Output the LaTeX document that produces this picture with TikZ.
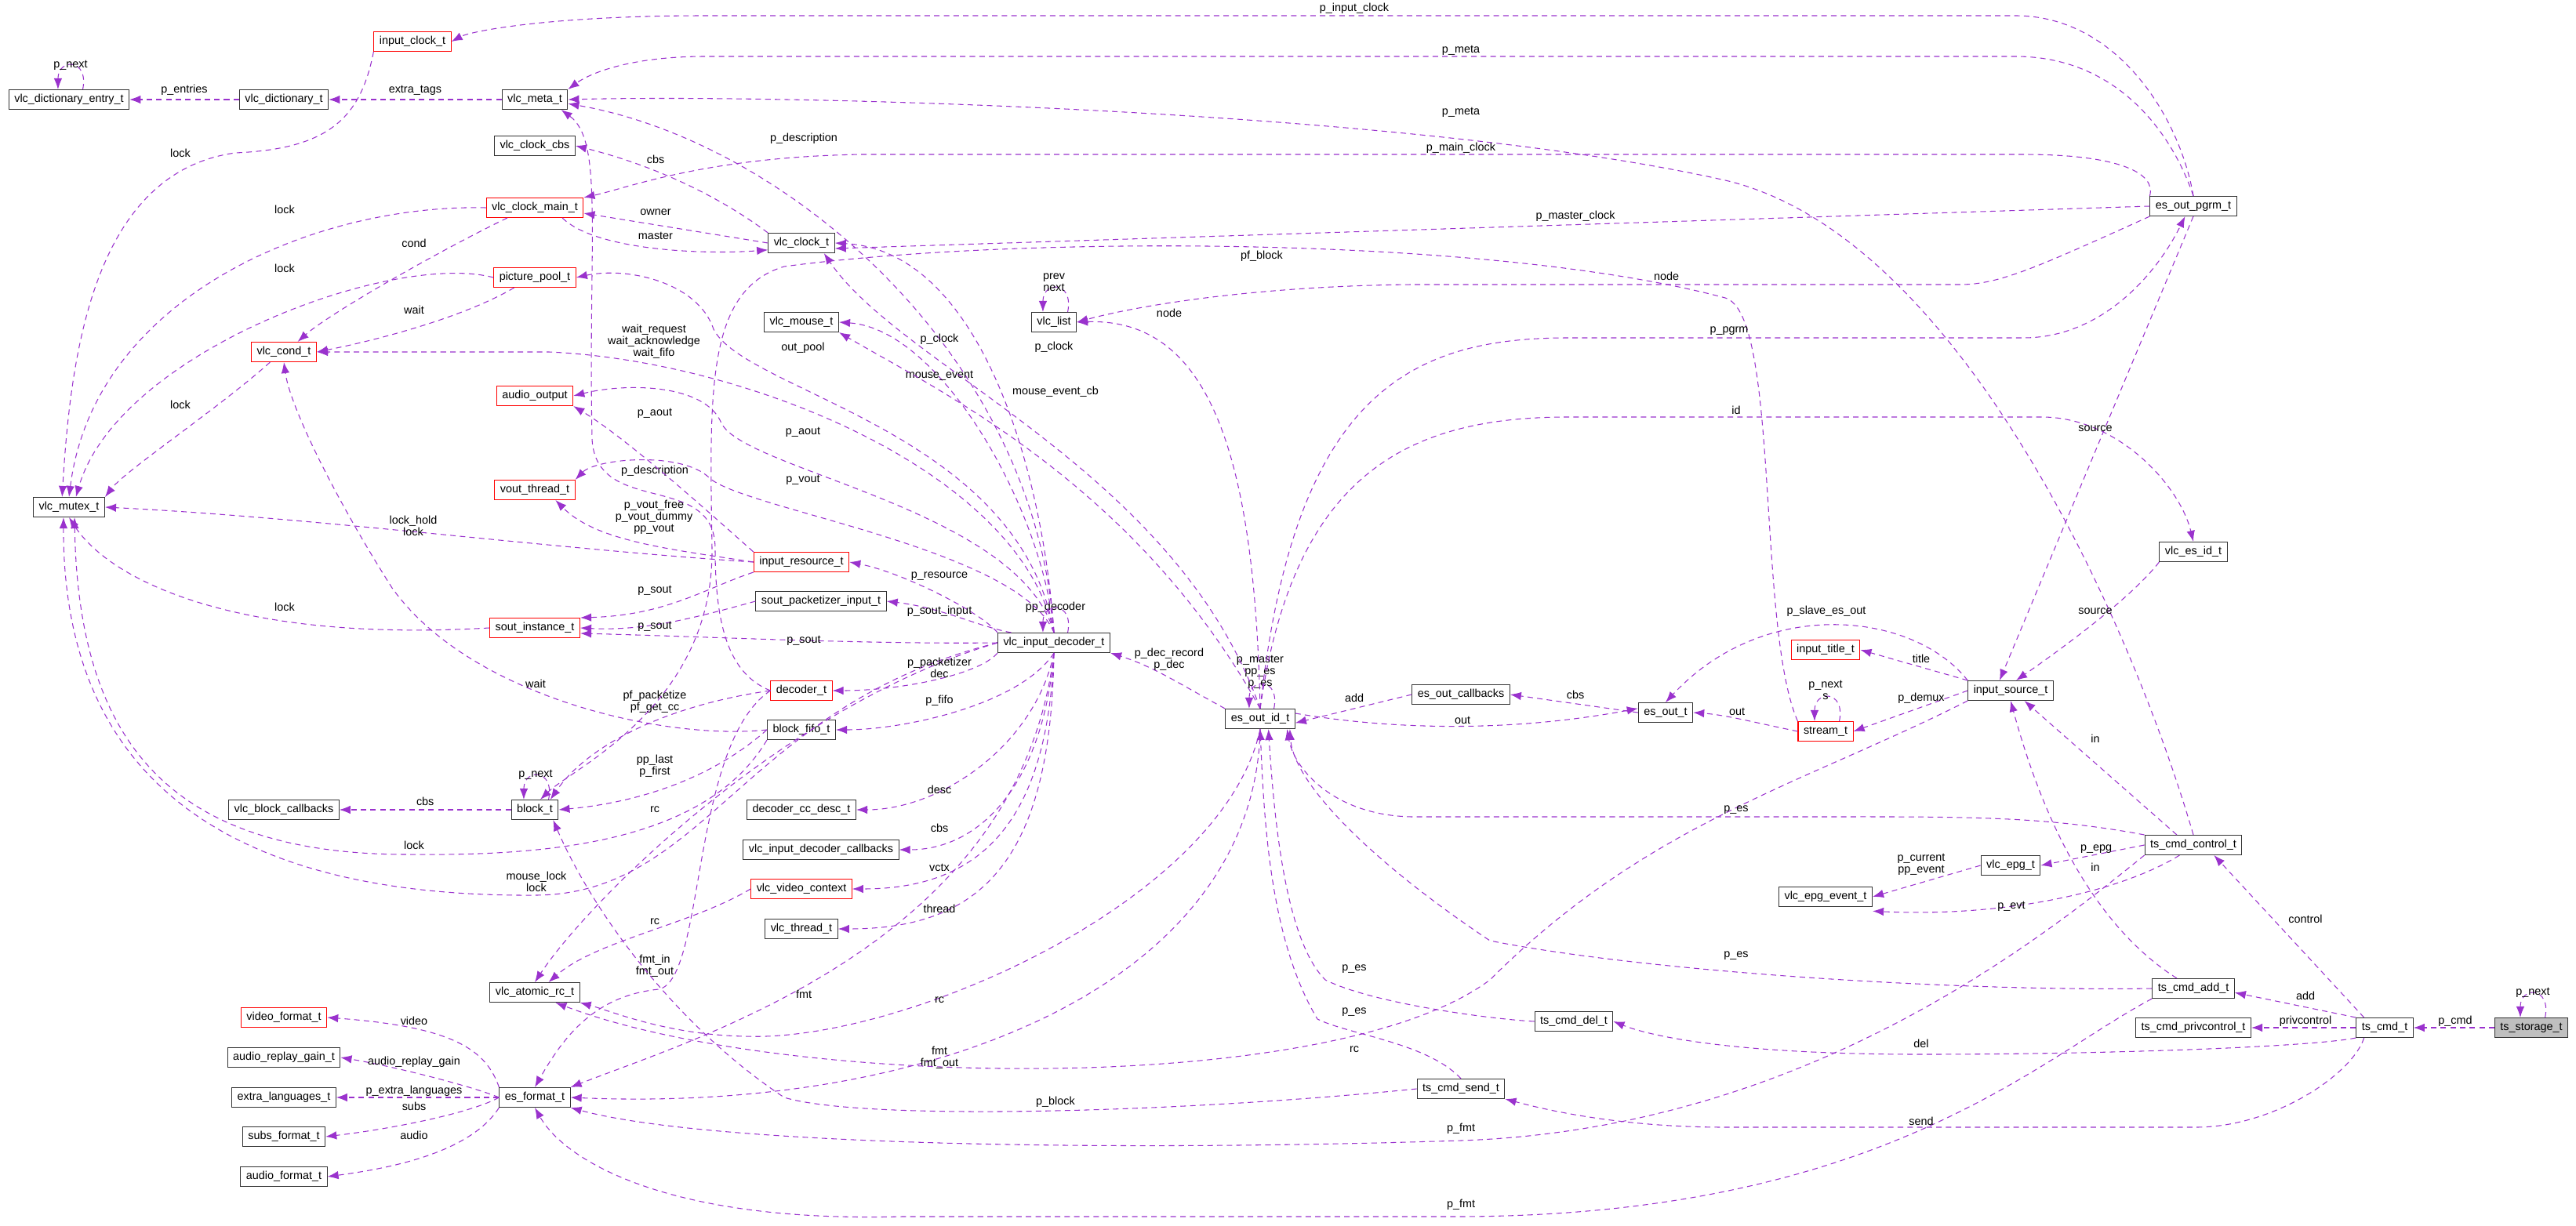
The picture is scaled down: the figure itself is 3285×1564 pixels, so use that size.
\documentclass[tikz,border=0pt]{standalone}
\usepackage{fontspec}
\setmainfont{Liberation Sans}
\usetikzlibrary{arrows.meta,calc,positioning}
\definecolor{edgecol}{HTML}{9A32CD}
\tikzset{st/.style={draw=black!80, line width=0.6pt, rectangle, inner xsep=4pt, inner ysep=0pt, minimum height=0.5cm, font=\fontsize{8.2}{9}\selectfont}}
\tikzstyle{rst}=[st, draw=red]
\tikzstyle{ed}=[draw=edgecol, dashed, line width=0.6pt, dash pattern=on 4pt off 3pt, -{Latex[length=8pt,width=6pt]}]
\tikzstyle{lbl}=[font=\fontsize{8.2}{8.6}\selectfont, align=center, inner sep=0pt]
\begin{document}
\begin{tikzpicture}[x=0.02cm, y=-0.02cm]
\useasboundingbox (0,0) rectangle (3285,1564);
% left column
\node[st] (dent) at (88,127) {vlc\_dictionary\_entry\_t};
\node[st] (dict) at (362,127) {vlc\_dictionary\_t};
\node[st] (mutex) at (88,647) {vlc\_mutex\_t};
\node[rst] (cond) at (362,449) {vlc\_cond\_t};
\node[st] (bcb) at (362,1033) {vlc\_block\_callbacks};
\node[rst] (vfmt) at (362,1298) {video\_format\_t};
\node[st] (rgain) at (362,1349) {audio\_replay\_gain\_t};
\node[st] (xlang) at (362,1400) {extra\_languages\_t};
\node[st] (subs) at (362,1450) {subs\_format\_t};
\node[st] (afmt) at (362,1501) {audio\_format\_t};
% second column
\node[rst] (ic) at (526,53) {input\_clock\_t};
\node[st] (meta) at (682,127) {vlc\_meta\_t};
\node[st] (ccbs) at (682,186) {vlc\_clock\_cbs};
\node[rst] (cmain) at (682,265) {vlc\_clock\_main\_t};
\node[rst] (ppool) at (682,354) {picture\_pool\_t};
\node[rst] (aout) at (682,505) {audio\_output};
\node[rst] (vout) at (682,625) {vout\_thread\_t};
\node[rst] (sout) at (682,801) {sout\_instance\_t};
\node[st] (blk) at (682,1033) {block\_t};
\node[st] (arc) at (682,1266) {vlc\_atomic\_rc\_t};
\node[st] (esf) at (682,1400) {es\_format\_t};
% third column
\node[st] (clk) at (1022,310) {vlc\_clock\_t};
\node[st] (mouse) at (1022,411) {vlc\_mouse\_t};
\node[rst] (ires) at (1022,717) {input\_resource\_t};
\node[st] (spkt) at (1047,767) {sout\_packetizer\_input\_t};
\node[rst] (dec) at (1022,881) {decoder\_t};
\node[st] (fifo) at (1022,931) {block\_fifo\_t};
\node[st] (ccdesc) at (1022,1033) {decoder\_cc\_desc\_t};
\node[st] (idcb) at (1047,1084) {vlc\_input\_decoder\_callbacks};
\node[rst] (vctx) at (1022,1134) {vlc\_video\_context};
\node[st] (thr) at (1022,1185) {vlc\_thread\_t};
\node[st] (list) at (1344,411) {vlc\_list};
\node[st] (idec) at (1344,820) {vlc\_input\_decoder\_t};
% right part
\node[st] (eoid) at (1607,917) {es\_out\_id\_t};
\node[st] (eocb) at (1863,886) {es\_out\_callbacks};
\node[st] (eout) at (2124,909) {es\_out\_t};
\node[st] (del) at (2007,1303) {ts\_cmd\_del\_t};
\node[st] (send) at (1863,1389) {ts\_cmd\_send\_t};
\node[rst] (title) at (2328,829) {input\_title\_t};
\node[rst] (stream) at (2328,933) {stream\_t};
\node[st] (epgev) at (2328,1144) {vlc\_epg\_event\_t};
\node[st] (isrc) at (2564,881) {input\_source\_t};
\node[st] (epg) at (2564,1104) {vlc\_epg\_t};
\node[st] (pgrm) at (2797,263) {es\_out\_pgrm\_t};
\node[st] (esid) at (2797,704) {vlc\_es\_id\_t};
\node[st] (ctrl) at (2797,1078) {ts\_cmd\_control\_t};
\node[st] (add) at (2797,1261) {ts\_cmd\_add\_t};
\node[st] (priv) at (2797,1311) {ts\_cmd\_privcontrol\_t};
\node[st] (cmd) at (3041,1311) {ts\_cmd\_t};
\node[st, fill=black!25] (store) at (3228,1311) {ts\_storage\_t};

% self loops
\draw[ed] ([xshift=10pt]dent.north) .. controls +(8,-40) and +(0,-40) .. ([xshift=-8pt]dent.north);
\draw[ed] ([xshift=10pt]blk.north) .. controls +(8,-40) and +(0,-40) .. ([xshift=-8pt]blk.north);
\draw[ed] ([xshift=10pt]list.north) .. controls +(8,-40) and +(0,-40) .. ([xshift=-8pt]list.north);
\draw[ed] ([xshift=10pt]stream.north) .. controls +(8,-40) and +(0,-40) .. ([xshift=-8pt]stream.north);
\draw[ed] ([xshift=10pt]store.north) .. controls +(8,-40) and +(0,-40) .. ([xshift=-8pt]store.north);
\draw[ed] ([xshift=10pt]idec.north) .. controls +(8,-40) and +(0,-40) .. ([xshift=-8pt]idec.north);
\draw[ed] ([xshift=10pt]eoid.north) .. controls +(8,-40) and +(0,-40) .. ([xshift=-8pt]eoid.north);
\node[lbl] (l1) at (90,83) {p\_next};
\node[lbl] (l2) at (683,988) {p\_next};
\node[lbl] (l3) at (1344,360) {prev\\next};
\node[lbl] (l4) at (2328,880) {p\_next\\s};
\node[lbl] (l5) at (3230,1266) {p\_next};
\node[lbl] (l6) at (1346,775) {pp\_decoder};
\node[lbl] (l7) at (1607,857) {p\_master\\pp\_es\\p\_es};

% left part
\draw[ed] (dict) -- (dent) node[lbl, pos=0.5, above=3pt] (l8) {p\_entries};
\draw[ed] (meta) -- (dict) node[lbl, pos=0.5, above=3pt] (l9) {extra\_tags};
\draw[ed] (ic.south west) .. controls (460,150) and (420,190) .. (300,195) .. controls (120,220) and (90,450) .. ([xshift=-5pt]mutex.north);
\node[lbl] (l10) at (230,195) {lock};
\draw[ed] (cmain.west) .. controls (400,260) and (120,380) .. (mutex.north);
\node[lbl] (l11) at (363,267) {lock};
\draw[ed] (ppool.west) .. controls (500,320) and (150,450) .. ([xshift=5pt]mutex.north);
\node[lbl] (l12) at (363,342) {lock};
\draw[ed] ([xshift=-20pt]cmain.south) .. controls (560,320) and (420,400) .. ([xshift=10pt]cond.north);
\node[lbl] (l13) at (528,310) {cond};
\draw[ed] ([xshift=-15pt]ppool.south) .. controls (600,400) and (500,430) .. (cond.east);
\node[lbl] (l14) at (528,395) {wait};
\draw[ed] ([xshift=-10pt]cond.south) .. controls (280,520) and (160,600) .. (mutex.north east);
\node[lbl] (l15) at (230,516) {lock};
\draw[ed] (clk.north west) .. controls (930,260) and (850,215) .. (ccbs.east);
\node[lbl] (l16) at (836,203) {cbs};
\draw[ed] (clk.west) -- ([yshift=-4pt]cmain.east);
\node[lbl] (l17) at (836,271) {owner};
\draw[ed] ([xshift=20pt]cmain.south) .. controls (760,320) and (900,325) .. ([yshift=-5pt]clk.west);
\node[lbl] (l18) at (836,301) {master};
\draw[ed] (dec.west) .. controls (930,860) and (912,800) .. (912,700) .. controls (912,600) and (760,660) .. (755,560) .. controls (750,300) and (770,180) .. ([xshift=-5pt]meta.south east);
\node[lbl] (l19) at (835,601) {p\_description};
\draw[ed] (idec.north) .. controls (1320,450) and (1000,180) .. ([yshift=-3pt]meta.east);
\node[lbl] (l20) at (1025,177) {p\_description};
\draw[ed] (pgrm.north west) .. controls (2750,220) and (2700,197) .. (2580,197) -- (1100,197) .. controls (900,200) and (800,240) .. (cmain.north east);
\node[lbl] (l21) at (1863,189) {p\_main\_clock};
\draw[ed] (idec.north) .. controls (1300,600) and (950,460) .. (700,449) -- (cond.east);
\node[lbl] (l22) at (834,436) {wait\_request\\wait\_acknowledge\\wait\_fifo};
\draw[ed] (idec.north) .. controls (1300,550) and (950,500) .. (910,420) .. controls (890,360) and (800,340) .. (ppool.east);
\node[lbl] (l23) at (1024,444) {out\_pool};
\draw[ed] (ires.north west) .. controls (900,650) and (800,560) .. (aout.south east);
\node[lbl] (l24) at (835,527) {p\_aout};
\draw[ed] (idec.north) .. controls (1300,650) and (950,600) .. (920,540) .. controls (900,490) and (800,488) .. (aout.east);
\node[lbl] (l25) at (1024,551) {p\_aout};
\draw[ed] (idec.north) .. controls (1300,700) and (950,650) .. (905,610) .. controls (870,575) and (760,585) .. (vout.north east);
\node[lbl] (l26) at (1024,612) {p\_vout};
\draw[ed] (ires.west) .. controls (850,700) and (760,690) .. ([xshift=15pt]vout.south);
\node[lbl] (l27) at (834,660) {p\_vout\_free\\p\_vout\_dummy\\pp\_vout};
\draw[ed] (ires.west) .. controls (700,700) and (400,660) .. (mutex.east);
\node[lbl] (l28) at (527,671) {lock\_hold\\lock};
\draw[ed] (ires.south west) .. controls (900,750) and (850,785) .. (sout.north east);
\node[lbl] (l29) at (835,753) {p\_sout};
\draw[ed] (sout.west) .. controls (300,820) and (140,740) .. (mutex.south);
\node[lbl] (l30) at (363,774) {lock};
\draw[ed] (spkt.west) .. controls (880,790) and (820,805) .. (sout.east);
\node[lbl] (l31) at (835,799) {p\_sout};
\draw[ed] (idec.west) .. controls (1100,822) and (900,812) .. ([yshift=-4pt]sout.east);
\node[lbl] (l32) at (1025,817) {p\_sout};
\draw[ed] (fifo.west) .. controls (850,945) and (600,890) .. (500,750) .. controls (430,640) and (370,520) .. (cond.south);
\node[lbl] (l33) at (683,872) {wait};
\draw[ed] (fifo.south west) .. controls (900,1075) and (700,1092) .. (520,1090) .. controls (220,1090) and (100,950) .. ([xshift=4pt]mutex.south);
\node[lbl] (l34) at (528,1078) {lock};
\draw[ed] (idec.west) .. controls (950,900) and (900,1140) .. (684,1142) .. controls (300,1145) and (80,1000) .. ([xshift=-4pt]mutex.south);
\node[lbl] (l35) at (684,1125) {mouse\_lock\\lock};
\draw[ed] (dec.west) .. controls (850,900) and (750,950) .. ([xshift=-6pt]blk.north east);
\node[lbl] (l36) at (835,895) {pf\_packetize\\pf\_get\_cc};
\draw[ed] (fifo.west) .. controls (900,1000) and (800,1025) .. (blk.east);
\node[lbl] (l37) at (835,977) {pp\_last\\p\_first};
\draw[ed] (blk) -- (bcb) node[lbl, pos=0.5, above=3pt] (l38) {cbs};
\draw[ed] (idec.west) .. controls (1000,900) and (750,1150) .. (arc.north);
\node[lbl] (l39) at (835,1033) {rc};
\draw[ed] (vctx.west) .. controls (880,1180) and (760,1200) .. ([xshift=10pt]arc.north);
\node[lbl] (l40) at (835,1176) {rc};
\draw[ed] (dec.west) .. controls (880,950) and (900,1250) .. (840,1262) .. controls (760,1270) and (720,1320) .. (esf.north);
\node[lbl] (l41) at (835,1232) {fmt\_in\\fmt\_out};
\draw[ed] (idec.south) .. controls (1300,1200) and (900,1320) .. (esf.north east);
\node[lbl] (l42) at (1025,1268) {fmt};
\draw[ed] (eoid.south) .. controls (1560,1150) and (1150,1330) .. (950,1322) .. controls (850,1320) and (780,1290) .. (arc.south east);
\node[lbl] (l43) at (1198,1276) {rc};
\draw[ed] (eoid.south) .. controls (1600,1250) and (1200,1420) .. (esf.east);
\node[lbl] (l44) at (1198,1349) {fmt\\fmt\_out};
\draw[ed] (send.west) .. controls (1500,1420) and (1100,1430) .. (1000,1400) .. controls (850,1300) and (750,1150) .. ([xshift=-4pt]blk.south east);
\node[lbl] (l45) at (1346,1406) {p\_block};
\draw[ed] (isrc.south west) .. controls (2300,1000) and (2100,1050) .. (1900,1250) .. controls (1700,1400) and (1000,1390) .. ([xshift=15pt]arc.south);
\node[lbl] (l46) at (1727,1339) {rc};
\draw[ed] (ctrl.south west) .. controls (2600,1200) and (2300,1440) .. (1863,1455) .. controls (1400,1470) and (900,1460) .. (esf.south east);
\node[lbl] (l47) at (1863,1440) {p\_fmt};
\draw[ed] (add.south west) .. controls (2600,1350) and (2400,1550) .. (1863,1552) -- (1150,1552) .. controls (850,1560) and (720,1480) .. (esf.south);
\node[lbl] (l48) at (1863,1537) {p\_fmt};
\draw[ed] (esf.north west) .. controls (620,1340) and (580,1310) .. (vfmt.east);
\node[lbl] (l49) at (528,1302) {video};
\draw[ed] (esf.west) .. controls (600,1385) and (500,1360) .. (rgain.east);
\node[lbl] (l50) at (528,1355) {audio\_replay\_gain};
\draw[ed] (esf) -- (xlang);
\node[lbl] (l51) at (528,1392) {p\_extra\_languages};
\draw[ed] (esf.west) .. controls (600,1420) and (500,1440) .. (subs.east);
\node[lbl] (l52) at (528,1411) {subs};
\draw[ed] (esf.south west) .. controls (600,1470) and (500,1490) .. (afmt.east);
\node[lbl] (l53) at (528,1448) {audio};

% decoder part
\draw[ed] (idec.north) .. controls (1330,600) and (1250,320) .. (clk.east);
\node[lbl] (l54) at (1198,433) {p\_clock};
\draw[ed] (idec.north) .. controls (1330,650) and (1200,420) .. (mouse.east);
\node[lbl] (l55) at (1198,479) {mouse\_event};
\draw[ed] (eoid.north) .. controls (1500,600) and (1150,470) .. ([xshift=-8pt]clk.south east);
\node[lbl] (l56) at (1344,443) {p\_clock};
\draw[ed] (eoid.north) .. controls (1450,620) and (1200,500) .. (mouse.south east);
\node[lbl] (l57) at (1346,500) {mouse\_event\_cb};
\draw[ed] (idec.north west) .. controls (1250,780) and (1150,730) .. (ires.east);
\node[lbl] (l58) at (1198,735) {p\_resource};
\draw[ed] ([xshift=10pt]idec.north west) .. controls (1250,800) and (1200,775) .. (spkt.east);
\node[lbl] (l59) at (1198,780) {p\_sout\_input};
\draw[ed] (idec.south west) .. controls (1250,860) and (1150,881) .. (dec.east);
\node[lbl] (l60) at (1198,852) {p\_packetizer\\dec};
\draw[ed] (idec.south) .. controls (1300,900) and (1150,931) .. (fifo.east);
\node[lbl] (l61) at (1198,894) {p\_fifo};
\draw[ed] (idec.south) .. controls (1320,950) and (1200,1033) .. (ccdesc.east);
\node[lbl] (l62) at (1198,1007) {desc};
\draw[ed] (idec.south) .. controls (1330,1000) and (1250,1084) .. (idcb.east);
\node[lbl] (l63) at (1198,1056) {cbs};
\draw[ed] (idec.south) .. controls (1335,1050) and (1250,1134) .. (vctx.east);
\node[lbl] (l64) at (1198,1107) {vctx};
\draw[ed] (idec.south) .. controls (1340,1100) and (1250,1185) .. (thr.east);
\node[lbl] (l65) at (1198,1159) {thread};
\draw[ed] (stream.north west) .. controls (2240,800) and (2270,400) .. (2200,380) .. controls (1900,300) and (1300,300) .. (1000,340) .. controls (900,370) and (905,500) .. (908,700) .. controls (910,900) and (730,980) .. ([xshift=4pt]blk.north);
\node[lbl] (l66) at (1609,327) {pf\_block};
\draw[ed] (eoid.north) .. controls (1600,600) and (1550,405) .. (list.east);
\node[lbl] (l67) at (1491,399) {node};
\draw[ed] (pgrm.south west) .. controls (2600,340) and (2550,363) .. (2500,363) -- (1800,363) .. controls (1600,365) and (1450,390) .. (list.east);
\node[lbl] (l68) at (2125,352) {node};
\draw[ed] (pgrm.north) .. controls (2780,150) and (2700,20) .. (2570,20) -- (900,20) .. controls (700,20) and (600,40) .. (ic.east);
\node[lbl] (l69) at (1727,11) {p\_input\_clock};
\draw[ed] (pgrm.north) .. controls (2770,170) and (2700,72) .. (2570,72) -- (900,72) .. controls (800,72) and (750,95) .. (meta.north east);
\node[lbl] (l70) at (1863,64) {p\_meta};
\draw[ed] (ctrl.north) .. controls (2720,800) and (2500,300) .. (2200,230) .. controls (1800,140) and (1000,120) .. (meta.east);
\node[lbl] (l71) at (1863,143) {p\_meta};
\draw[ed] (pgrm.west) -- ([yshift=-4pt]clk.east);
\node[lbl] (l72) at (2009,276) {p\_master\_clock};
\draw[ed] (eoid.north) .. controls (1650,500) and (1800,431) .. (2000,431) -- (2580,431) .. controls (2680,431) and (2750,350) .. ([xshift=-6pt]pgrm.south);
\node[lbl] (l73) at (2205,422) {p\_pgrm};
\draw[ed] (eoid.north) .. controls (1650,600) and (1800,532) .. (2000,532) -- (2600,532) .. controls (2700,530) and (2780,620) .. (esid.north);
\node[lbl] (l74) at (2214,523) {id};
\draw[ed] (pgrm.south) -- ([xshift=-8pt]isrc.north);
\node[lbl] (l75) at (2672,547) {source};
\draw[ed] (esid.south west) .. controls (2720,760) and (2640,820) .. ([xshift=4pt]isrc.north);
\node[lbl] (l76) at (2672,780) {source};
\draw[ed] (isrc.north west) .. controls (2440,780) and (2250,760) .. (eout.north);
\node[lbl] (l77) at (2329,780) {p\_slave\_es\_out};

% es_out part
\draw[ed] (eoid.north west) .. controls (1500,870) and (1470,850) .. (idec.south east);
\node[lbl] (l78) at (1491,841) {p\_dec\_record\\p\_dec};
\draw[ed] (eocb.west) -- ([yshift=-3pt]eoid.east);
\node[lbl] (l79) at (1727,890) {add};
\draw[ed] (eout.west) -- (eocb.east);
\node[lbl] (l80) at (2009,886) {cbs};
\draw[ed] ([yshift=4pt]eoid.east) .. controls (1800,935) and (1950,930) .. ([yshift=3pt]eout.west);
\node[lbl] (l81) at (1865,919) {out};
\draw[ed] (stream.west) .. controls (2230,920) and (2200,912) .. (eout.east);
\node[lbl] (l82) at (2215,908) {out};
\draw[ed] (ctrl.north west) .. controls (2600,1040) and (2500,1042) .. (2300,1042) -- (1800,1042) .. controls (1700,1040) and (1650,980) .. ([xshift=-6pt]eoid.south east);
\node[lbl] (l83) at (2214,1033) {p\_es};
\draw[ed] (add.west) .. controls (2500,1265) and (2100,1240) .. (1900,1200) .. controls (1750,1100) and (1650,1000) .. ([xshift=-4pt]eoid.south east);
\node[lbl] (l84) at (2214,1219) {p\_es};
\draw[ed] (del.west) .. controls (1900,1300) and (1750,1280) .. (1690,1250) .. controls (1640,1200) and (1625,1050) .. ([xshift=6pt]eoid.south);
\node[lbl] (l85) at (1727,1236) {p\_es};
\draw[ed] (send.north) .. controls (1820,1330) and (1720,1320) .. (1680,1300) .. controls (1620,1200) and (1612,1050) .. (eoid.south);
\node[lbl] (l86) at (1727,1291) {p\_es};
\draw[ed] (isrc.north west) -- (title.east);
\node[lbl] (l87) at (2450,840) {title};
\draw[ed] (isrc.west) -- (stream.east);
\node[lbl] (l88) at (2450,891) {p\_demux};
\draw[ed] ([xshift=-12pt]ctrl.north) -- ([xshift=10pt]isrc.south);
\node[lbl] (l89) at (2672,942) {in};
\draw[ed] ([xshift=-12pt]add.north) .. controls (2700,1200) and (2620,1100) .. (isrc.south);
\node[lbl] (l90) at (2672,1106) {in};
\draw[ed] (ctrl.west) -- (epg.east);
\node[lbl] (l91) at (2673,1083) {p\_epg};
\draw[ed] (epg.west) -- (epgev.east);
\node[lbl] (l92) at (2450,1103) {p\_current\\pp\_event};
\draw[ed] ([xshift=-10pt]ctrl.south) .. controls (2700,1140) and (2550,1170) .. ([yshift=-3pt]epgev.south east);
\node[lbl] (l93) at (2565,1156) {p\_evt};

% ts_cmd part
\draw[ed] ([xshift=-15pt]cmd.north) -- ([xshift=15pt]ctrl.south);
\node[lbl] (l94) at (2940,1172) {control};
\draw[ed] (cmd.north west) -- ([yshift=-3pt]add.east);
\node[lbl] (l95) at (2940,1270) {add};
\draw[ed] (cmd) -- (priv);
\node[lbl] (l96) at (2940,1303) {privcontrol};
\draw[ed] (store) -- (cmd);
\node[lbl] (l97) at (3131,1303) {p\_cmd};
\draw[ed] (cmd.south west) .. controls (2950,1335) and (2700,1345) .. (2450,1345) .. controls (2200,1345) and (2100,1320) .. (del.east);
\node[lbl] (l98) at (2450,1331) {del};
\draw[ed] ([xshift=-15pt]cmd.south) .. controls (3000,1370) and (2900,1438) .. (2800,1438) -- (2200,1438) .. controls (2050,1438) and (1950,1410) .. (send.south east);
\node[lbl] (l99) at (2450,1430) {send};
\end{tikzpicture}
\end{document}
